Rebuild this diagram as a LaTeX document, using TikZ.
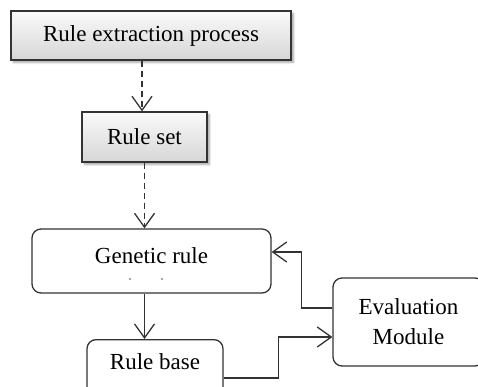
\documentclass[tikz,border=0pt]{standalone}
\usepackage{fontspec}
\setmainfont{Liberation Serif}
\usetikzlibrary{arrows.meta,calc,shadows.blur}

\begin{document}
\begin{tikzpicture}[x=1pt,y=-1pt,
  font=\fontsize{23}{30}\selectfont,
  line width=1.3pt,
  greybox/.style={draw=black!80, line width=1.3pt, top color=gray!4, bottom color=gray!32,
    blur shadow={shadow xshift=2.5pt, shadow yshift=-2.5pt, shadow opacity=35, shadow blur steps=6},
    inner sep=0pt},
  roundbox/.style={draw=black!80, line width=1.3pt, rounded corners=9pt, fill=white, inner sep=0pt, align=center},
  flow/.style={draw=black!80, -{Straight Barb[length=14pt,width=20pt]}},
  dflow/.style={flow, dash pattern=on 6pt off 4pt}]
\useasboundingbox (0,0) rectangle (478,387);
\clip (0,0) rectangle (478,387);

% grey process boxes
\node[greybox, minimum width=280pt, minimum height=49pt] (re) at (151,35.5) {Rule extraction process};
\node[greybox, minimum width=125pt, minimum height=50pt] (rs) at (144.5,137) {Rule set};

% rounded boxes
\node[roundbox, minimum width=239pt, minimum height=64pt, text depth=11pt] (gr) at (151.5,261) {Genetic rule};
\fill[black!70] (130,279) circle (0.8pt) (162,279) circle (0.8pt);
\node[roundbox, anchor=north, minimum width=136pt, inner ysep=14pt, text depth=40pt] (rb) at (155,339) {Rule base};
\node[roundbox, minimum width=151pt, minimum height=88pt] (ev) at (408.5,322) {Evaluation\\Module};

% connectors
\draw[dflow] ($(rs.north |- re.south)+(-2.5,0)$) -- ($(rs.north)+(-2.5,0)$);
\draw[dflow] (rs.south) -- (rs.south |- gr.north);
\draw[flow] (gr.south -| rs.south) -- (rb.north -| rs.south);
\draw[flow] ($(rb.north east)+(0,39)$) -- ++(55,0) |- ([yshift=-15pt]ev.west);
\draw[flow] ([yshift=14pt]ev.west) -- ++(-31,0) |- ([yshift=9pt]gr.east);
\end{tikzpicture}
\end{document}
